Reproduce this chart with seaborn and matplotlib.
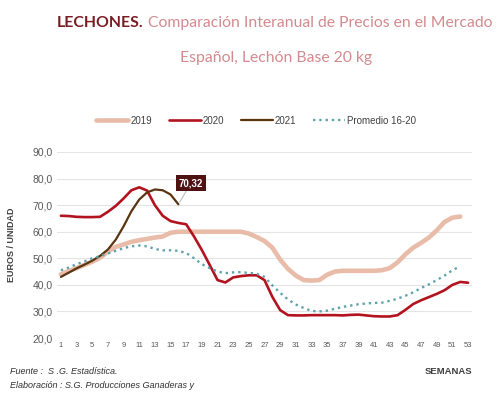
import numpy as np
import pandas as pd
import matplotlib
matplotlib.use("Agg")
import matplotlib.pyplot as plt
import seaborn as sns

# weekly prices, euros per piglet
weeks = list(range(1, 54))

y2019 = [44.0, 45.2, 46.3, 47.5, 48.7, 50.2, 52.5, 54.3, 55.2, 56.2,
         56.8, 57.3, 57.8, 58.2, 59.6, 60.0, 60.0, 60.0, 60.0, 60.0,
         60.0, 60.0, 60.0, 60.0, 59.3, 58.0, 56.5, 54.0, 49.5, 46.0,
         43.5, 41.8, 41.6, 41.8, 43.8, 45.0, 45.3, 45.3, 45.3, 45.3,
         45.3, 45.5, 46.3, 48.5, 51.5, 54.0, 55.8, 57.8, 60.5, 63.7,
         65.3, 65.7]

y2020 = [66.0, 65.9, 65.6, 65.5, 65.5, 65.6, 67.5, 69.7, 72.5, 75.6,
         76.7, 75.5, 70.0, 66.0, 64.0, 63.3, 62.8, 58.2, 53.1, 47.5,
         41.8, 40.9, 42.8, 43.3, 43.6, 43.6, 41.8, 35.5, 30.5, 28.6,
         28.5, 28.5, 28.6, 28.6, 28.6, 28.6, 28.5, 28.7, 28.8, 28.5,
         28.2, 28.1, 28.1, 28.6, 30.6, 32.8, 34.2, 35.4, 36.6, 38.0,
         40.0, 41.1, 40.8]

y2021 = [43.0, 44.6, 46.2, 47.6, 49.1, 50.9, 53.3, 57.0, 62.0, 67.7,
         72.1, 74.8, 75.9, 75.6, 74.0, 70.32]

promedio = [45.5, 46.5, 47.8, 48.8, 50.0, 50.8, 51.8, 52.8, 53.8, 54.5,
            54.8, 54.5, 53.5, 53.0, 53.0, 52.8, 52.0, 50.0, 47.8, 46.3,
            45.0, 44.4, 44.7, 44.8, 44.5, 44.2, 43.0, 39.8, 37.0, 34.5,
            32.6, 31.3, 30.2, 30.0, 30.3, 31.0, 31.7, 32.2, 32.7, 33.0,
            33.2, 33.3, 34.0, 34.8, 35.9, 37.2, 38.8, 40.2, 41.8, 43.5,
            45.5, 47.0]

series = {
    "2019": (y2019, "#E9BCA9", 3.3, "-"),
    "2020": (y2020, "#B3121F", 1.9, "-"),
    "2021": (y2021, "#5A3511", 1.6, "-"),
    "Promedio 16-20": (promedio, "#5FA3AB", 1.7, ":"),
}

sns.set_theme(style="white")
plt.rcParams["font.family"] = ["Liberation Sans", "DejaVu Sans"]

fig = plt.figure(figsize=(5, 3.95), dpi=100)
ax = fig.add_axes([0.114, 0.1443, 0.83, 0.4709])

for name, (vals, col, lw, ls) in series.items():
    df = pd.DataFrame({"semana": weeks[:len(vals)], "precio": vals})
    sns.lineplot(data=df, x="semana", y="precio", ax=ax, color=col,
                 linewidth=lw, linestyle=ls, label=name)

ax.set_xlim(0.5, 53.5)
ax.set_ylim(20, 90)
ax.set_yticks(np.arange(20, 91, 10))
ax.set_yticklabels([f"{v:.1f}".replace(".", ",") for v in np.arange(20, 91, 10)],
                   fontsize=7.5, color="#595959")
ax.set_xticks(weeks[::2])
ax.set_xticklabels([str(w) for w in weeks[::2]], fontsize=5.5, color="#595959")
ax.tick_params(axis="both", length=0, pad=3)
ax.grid(axis="y", color="#E4E4E4", linewidth=0.8)
sns.despine(ax=ax, left=True, bottom=True)
ax.set_xlabel("")
ax.set_ylabel("EUROS / UNIDAD", fontsize=6.5, fontweight="bold", color="#404040", labelpad=12)

ax.legend(loc="center", bbox_to_anchor=(0.512, 0.694), bbox_transform=fig.transFigure,
          ncol=4, frameon=False, fontsize=7, handlelength=3.3, columnspacing=1.7,
          handletextpad=0.2, labelcolor="#404040")

# last 2021 value label
ax.annotate("70,32", xy=(16, y2021[-1]), xytext=(17.6, 78.2),
            fontsize=7, fontweight="bold", color="white", ha="center", va="center",
            bbox=dict(boxstyle="square,pad=0.3", fc="#4E1212", ec="none"),
            arrowprops=dict(arrowstyle="-", color="#BFBFBF", lw=0.8,
                            shrinkA=0, shrinkB=2))

# titles - sized so each piece spans the same width as in the original
tfont = ["Lato", "DejaVu Sans"]
renderer = fig.canvas.get_renderer()

def fitted_text(x, y, s, width_px, **kw):
    t = fig.text(x, y, s, fontsize=12, family=tfont, va="baseline", **kw)
    w = t.get_window_extent(renderer).width
    t.set_fontsize(12 * width_px / w)
    return t

fitted_text(57 / 500, 0.932, "LECHONES.", 87, fontweight="bold", color="#7A1D22")
fitted_text(148 / 500, 0.932, "Comparación Interanual de Precios en el Mercado", 345,
            color="#D38A8E")
fitted_text(0.552, 0.842, "Español, Lechón Base 20 kg", 192, ha="center", color="#D38A8E")

# footer
fig.text(0.02, 0.053, "Fuente :  S .G. Estadística.", fontsize=6.5, style="italic", color="#303030")
fig.text(0.02, 0.018, "Elaboración : S.G. Producciones Ganaderas y", fontsize=6.5,
         style="italic", color="#303030")
fig.text(0.944, 0.053, "SEMANAS", fontsize=6.8, fontweight="bold", color="#404040", ha="right")

fig.savefig("out.png", dpi=100, facecolor="white")
